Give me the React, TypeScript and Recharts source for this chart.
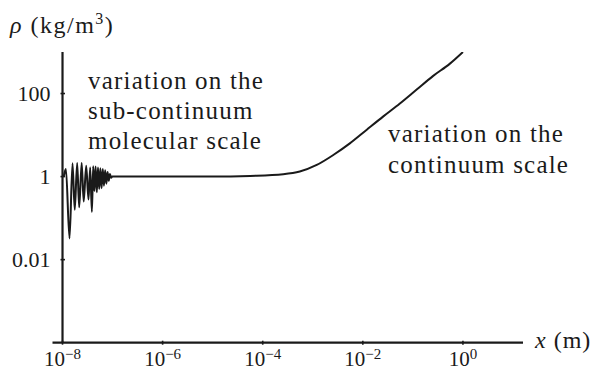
import React from 'react';
import { LineChart, Line, XAxis, YAxis, ReferenceLine } from 'recharts';

// molecular scale: density oscillations near the wall
const molecularX = [
  1.057e-8, 1.169e-8, 1.38e-8, 1.585e-8, 1.754e-8, 1.963e-8, 2.153e-8, 2.415e-8,
  2.649e-8, 2.972e-8, 3.304e-8, 3.573e-8, 3.864e-8, 4.102e-8, 4.335e-8, 4.581e-8,
  4.842e-8, 5.117e-8, 5.408e-8, 5.702e-8, 6.026e-8, 6.368e-8, 6.73e-8, 7.112e-8,
  7.516e-8, 7.943e-8, 8.395e-8, 8.872e-8, 9.376e-8, 9.817e-8,
];
const molecularRho = [
  1, 1.514, 0.0324, 2.089, 0.158, 2.138, 0.182, 2.138,
  0.251, 1.82, 0.282, 1.66, 0.141, 1.778, 0.447, 1.738,
  0.417, 1.66, 0.501, 1.585, 0.525, 1.514, 0.603, 1.413,
  0.676, 1.288, 0.794, 1.148, 0.933, 1,
];

// continuum scale
const continuumX = [
  2e-7, 1e-6, 1e-5, 5.6e-5, 2.57e-4, 5.5e-4, 1.2e-3, 2.57e-3,
  5.5e-3, 1.2e-2, 2.57e-2, 5.5e-2, 0.1175, 0.251, 0.55, 1,
];
const continuumRho = [
  1, 1, 1, 1.04, 1.14, 1.32, 1.905, 3.311,
  6.31, 13.49, 28.18, 57.5, 123, 263, 524.8, 1000,
];

const xTicks = [1e-8, 1e-6, 1e-4, 1e-2, 1];
const xTickExponents = ['−8', '−6', '−4', '−2', '0'];
const yTicks = [0.01, 1, 100];
const yTickLabels = ['0.01', '1', '100'];

const data = [...molecularX, ...continuumX].map((x, i) => ({
  x,
  rho: [...molecularRho, ...continuumRho][i],
}));

const INK = '#1a1a1a';
const FONT = "'Liberation Serif', 'DejaVu Serif', 'Times New Roman', serif";
const serif = { fontFamily: FONT };

const XTick = (props: any) => {
  const { x, y, index } = props;
  return (
    <g>
      <line x1={x} x2={x} y1={y} y2={y - 4} stroke={INK} strokeWidth={1.6} />
      <text x={x} y={y + 21} textAnchor="middle" style={serif} fontSize={21} fill={INK}>
        <tspan>10</tspan>
        <tspan dy={-7} fontSize={15}>{xTickExponents[index]}</tspan>
      </text>
    </g>
  );
};

const YTick = (props: any) => {
  const { x, y, index } = props;
  return (
    <g>
      <line x1={x + 10} x2={x + 14.5} y1={y} y2={y} stroke={INK} strokeWidth={1.6} />
      <text x={x} y={y + 7.5} textAnchor="end" style={serif} fontSize={22} fill={INK}>
        {yTickLabels[index]}
      </text>
    </g>
  );
};

const App: React.FC = () => {
  return (
    <div style={{ position: 'absolute', left: 0, top: 0, width: 595, height: 372, background: '#fff', ...serif }}>
      <LineChart width={595} height={372} data={data} margin={{ top: 52, right: 72, bottom: 0, left: 0 }}>
        <XAxis
          dataKey="x"
          type="number"
          scale="log"
          domain={[10 ** -8.2, 10 ** 1.2]}
          allowDataOverflow
          ticks={xTicks}
          interval={0}
          tickSize={0}
          tickLine={false}
          tick={<XTick />}
          axisLine={{ stroke: INK, strokeWidth: 2.2 }}
          height={29.3}
        />
        <YAxis
          type="number"
          scale="log"
          domain={[1e-4, 1e3]}
          allowDataOverflow
          ticks={yTicks}
          interval={0}
          tickSize={0}
          tickLine={false}
          axisLine={false}
          tick={<YTick />}
          width={52.5}
        />
        <ReferenceLine x={1e-8} stroke={INK} strokeWidth={2.2} />
        <Line
          dataKey="rho"
          type="monotone"
          dot={false}
          stroke={INK}
          strokeWidth={2}
          isAnimationActive={false}
        />
      </LineChart>
      <svg
        width={595}
        height={372}
        style={{ position: 'absolute', left: 0, top: 0, pointerEvents: 'none', ...serif }}
        fill={INK}
      >
        <text x={10} y={33} fontSize={24} letterSpacing={1.5} style={serif}>
          <tspan fontStyle="italic">ρ</tspan>
          <tspan> (kg/m</tspan>
          <tspan dy={-9} fontSize={16}>3</tspan>
          <tspan dy={9}>)</tspan>
        </text>
        <text x={535} y={348} fontSize={24} letterSpacing={1} style={serif}>
          <tspan fontStyle="italic">x</tspan>
          <tspan> (m)</tspan>
        </text>
        <text fontSize={25} letterSpacing={1.2} style={serif}>
          <tspan x={88} y={89}>variation on the</tspan>
          <tspan x={88} y={119}>sub-continuum</tspan>
          <tspan x={88} y={149}>molecular scale</tspan>
        </text>
        <text fontSize={25} letterSpacing={1.2} style={serif}>
          <tspan x={388} y={142}>variation on the</tspan>
          <tspan x={388} y={172.5}>continuum scale</tspan>
        </text>
      </svg>
    </div>
  );
};

export default App;
